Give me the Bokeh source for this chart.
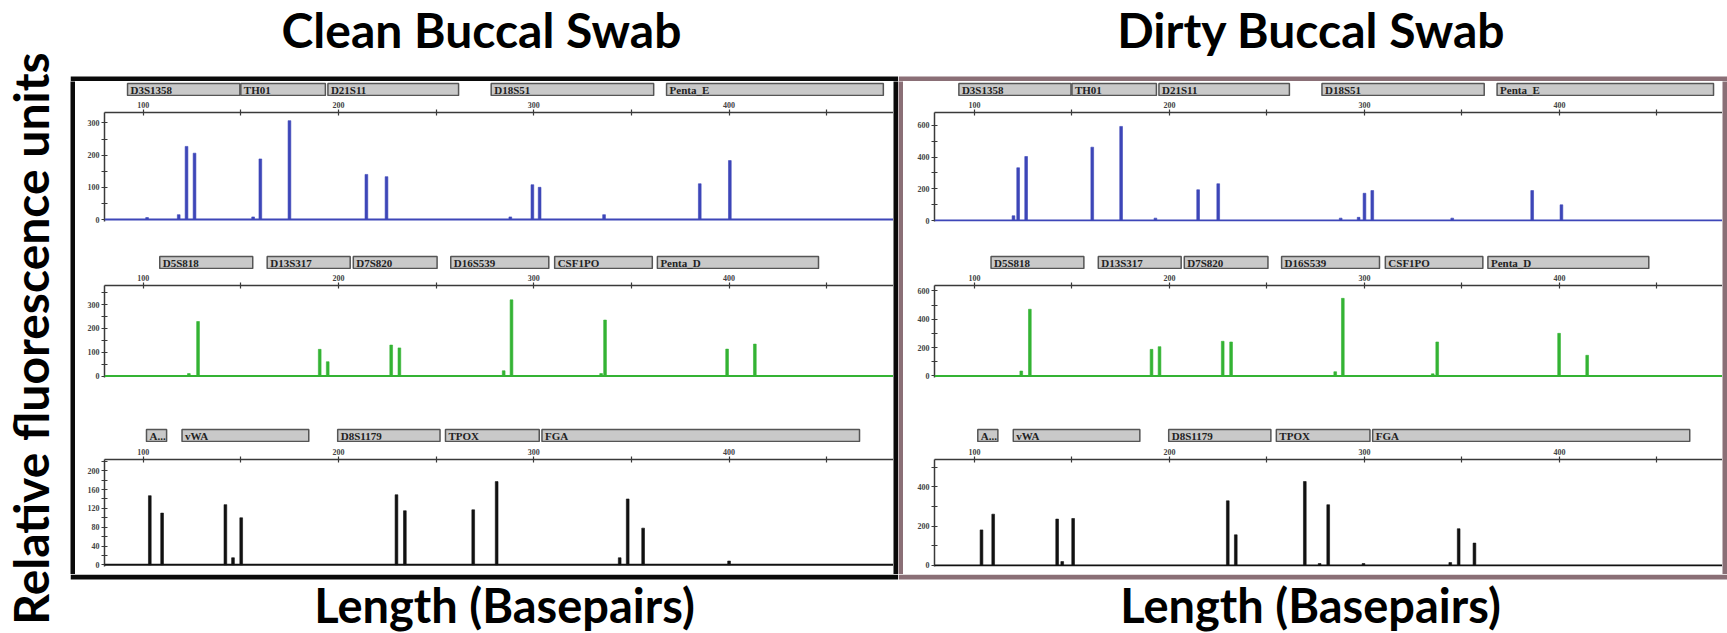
import math
from bokeh.plotting import figure
from bokeh.layouts import row, column
from bokeh.models import Range1d, FixedTicker, Label, Span, ColumnDataSource, BoxAnnotation
from bokeh.core.properties import value
from bokeh.embed import file_html
from bokeh.resources import INLINE

# ---------------- data ----------------
panel_titles = ["Clean Buccal Swab", "Dirty Buccal Swab"]
x_axis_title = "Length (Basepairs)"
y_axis_title = "Relative fluorescence units"

bp_ticks = [100, 150, 200, 250, 300, 350, 400, 450]
bp_tick_labels = ["100", "", "200", "", "300", "", "400", ""]

# loci boxes (same kit in both panels)
blue_loci = ["D3S1358", "TH01", "D21S11", "D18S51", "Penta_E"]
blue_loci_start = [92.0, 150.0, 194.6, 278.2, 368.0]
blue_loci_end = [149.5, 193.3, 261.5, 361.4, 479.0]
green_loci = ["D5S818", "D13S317", "D7S820", "D16S539", "CSF1PO", "Penta_D"]
green_loci_start = [108.5, 163.5, 207.6, 257.5, 310.7, 363.3]
green_loci_end = [156.1, 206.0, 250.5, 307.7, 360.7, 445.8]
black_loci = ["A...", "vWA", "D8S1179", "TPOX", "FGA"]
black_loci_start = [101.7, 119.9, 199.6, 254.8, 304.2]
black_loci_end = [112.0, 184.8, 252.0, 302.8, 466.8]

# clean swab peaks (bp, RFU)
clean_blue_bp = [102.0, 118.2, 122.2, 126.3, 156.3, 160.0, 174.9, 214.3, 224.6, 288.0, 299.3, 303.0, 336.0, 385.0, 400.4]
clean_blue_rfu = [6, 15, 227, 206, 8, 188, 307, 140, 133, 8, 108, 100, 15, 111, 183]
clean_green_bp = [123.4, 128.1, 190.4, 194.5, 227.0, 231.2, 284.6, 288.6, 334.5, 336.5, 399.0, 413.2]
clean_green_rfu = [10, 229, 112, 60, 130, 118, 22, 320, 10, 235, 113, 134]
clean_black_bp = [103.4, 109.7, 142.1, 146.0, 150.2, 229.7, 234.0, 269.0, 281.0, 344.0, 348.1, 356.0, 400.0]
clean_black_rfu = [147, 110, 128, 15, 100, 149, 115, 117, 177, 15, 140, 78, 8]

# dirty swab peaks (bp, RFU)
dirty_blue_bp = [120.0, 122.4, 126.5, 160.4, 175.2, 192.8, 214.7, 225.0, 287.8, 297.0, 300.0, 304.0, 345.0, 386.0, 401.0]
dirty_blue_rfu = [30, 333, 404, 463, 594, 15, 194, 232, 15, 20, 172, 189, 15, 189, 99]
dirty_green_bp = [124.0, 128.4, 190.8, 194.9, 227.3, 231.6, 285.0, 288.9, 335.0, 337.3, 399.8, 414.2]
dirty_green_rfu = [35, 471, 188, 207, 245, 240, 30, 548, 15, 240, 301, 146]
dirty_black_bp = [103.6, 109.6, 142.4, 145.0, 150.6, 229.9, 234.0, 269.4, 277.0, 281.4, 299.5, 344.0, 348.3, 356.4]
dirty_black_rfu = [181, 261, 236, 20, 239, 329, 156, 427, 10, 309, 10, 15, 187, 114]

# y-axis ticks
clean_blue_yticks = [0, 50, 100, 150, 200, 250, 300]
clean_blue_ylabels = ["0", "", "100", "", "200", "", "300"]
clean_green_yticks = [0, 50, 100, 150, 200, 250, 300, 350]
clean_green_ylabels = ["0", "", "100", "", "200", "", "300", ""]
clean_black_yticks = [0, 20, 40, 60, 80, 100, 120, 140, 160, 180, 200, 220]
clean_black_ylabels = ["0", "", "40", "", "80", "", "120", "", "160", "", "200", ""]
dirty_blue_yticks = [0, 100, 200, 300, 400, 500, 600]
dirty_blue_ylabels = ["0", "", "200", "", "400", "", "600"]
dirty_green_yticks = [0, 100, 200, 300, 400, 500, 600]
dirty_green_ylabels = ["0", "", "200", "", "400", "", "600"]
dirty_black_yticks = [0, 100, 200, 300, 400, 500]
dirty_black_ylabels = ["0", "", "200", "", "400", ""]

# ---------------- styling / layout ----------------
BLUE = "#3d46b8"
GREEN = "#34b334"
BLACK = "#111111"
AXIS_COL = "#3a3a3a"
TITLE_FONT = "Lato"

L_H = [15, 42, 59]
T_H = [131, 114, 132]
T_TOP = [16, 16, 17]
T_BOT = [6, 6, 8]
INNER_H = sum(L_H) + sum(T_H)
STRIP = 5
TITLE_H = 81
XLAB_H = 59


def blank(w, h, color="white"):
    p = figure(width=w, height=h, toolbar_location=None, output_backend="svg",
               min_border=0, x_axis_location=None, y_axis_location=None,
               outline_line_color=None, background_fill_color=color,
               border_fill_color=color, x_range=Range1d(0, w), y_range=Range1d(0, h))
    p.grid.visible = False
    return p


def text_fig(w, h, text, x, y, size, angle=0.0):
    p = blank(w, h)
    p.add_layout(Label(x=x, y=y, text=text, text_font=TITLE_FONT, text_font_style="bold",
                       text_font_size=size, text_align="center", text_baseline="middle",
                       text_color="#000000", angle=angle))
    return p


def locus_fig(w, h, xr, bl, names, starts, ends):
    p = figure(width=w, height=h, x_range=xr, y_range=Range1d(0, h), toolbar_location=None,
               output_backend="svg", min_border_left=bl, min_border_right=0,
               min_border_top=0, min_border_bottom=0, x_axis_location=None,
               y_axis_location=None, outline_line_color=None)
    p.grid.visible = False
    src = ColumnDataSource(dict(name=names, start=starts, end=ends))
    p.quad(left="start", right="end", bottom=1, top=13, source=src,
           fill_color="#c9c9c9", line_color="#555555", line_width=1.5)
    p.text(x="start", y=7, text="name", source=src, x_offset=3, text_baseline="middle",
           text_font=value("Liberation Serif"), text_font_style="bold",
           text_font_size="11px", text_color="#222222")
    return p


def trace_fig(w, h, xr, yr, bl, bt, bb, yticks, ylabels, xs, hs, color):
    p = figure(width=w, height=h, x_range=xr, y_range=Range1d(*yr), x_axis_location="above",
               toolbar_location=None, output_backend="svg", min_border_left=bl,
               min_border_right=0, min_border_top=bt, min_border_bottom=bb,
               outline_line_color=None)
    p.grid.visible = False
    p.xaxis.ticker = FixedTicker(ticks=bp_ticks, minor_ticks=[])
    p.xaxis.major_label_overrides = {t: l for t, l in zip(bp_ticks, bp_tick_labels)}
    p.yaxis.ticker = FixedTicker(ticks=yticks, minor_ticks=[])
    p.yaxis.major_label_overrides = {t: l for t, l in zip(yticks, ylabels)}
    for ax in (p.xaxis[0], p.yaxis[0]):
        ax.axis_line_color = AXIS_COL
        ax.axis_line_width = 1.5
        ax.major_tick_line_color = AXIS_COL
        ax.major_tick_line_width = 1.2
        ax.major_tick_in = 3
        ax.major_tick_out = 3
        ax.minor_tick_in = 0
        ax.minor_tick_out = 0
        ax.major_label_standoff = 2
        ax.major_label_text_font = "Liberation Serif"
        ax.major_label_text_font_style = "bold"
        ax.major_label_text_font_size = "8px"
        ax.major_label_text_color = "#444444"
    p.add_layout(Span(location=0, dimension="width", line_color=color, line_width=2))
    p.vbar(x=xs, top=hs, bottom=0, width=1.4, fill_color=color, line_color=color,
           line_width=0.6)
    return p


def panel(title, width, frame_left, xstart, xend, border_color, yranges, ticks, peaks,
          title_x, xlab_x):
    inner_w = width - 2 * STRIP
    xr = Range1d(xstart, xend)
    loci = [(blue_loci, blue_loci_start, blue_loci_end),
            (green_loci, green_loci_start, green_loci_end),
            (black_loci, black_loci_start, black_loci_end)]
    colors = [BLUE, GREEN, BLACK]
    kids = []
    for i in range(3):
        kids.append(locus_fig(inner_w, L_H[i], xr, frame_left, *loci[i]))
        kids.append(trace_fig(inner_w, T_H[i], xr, yranges[i], frame_left, T_TOP[i], T_BOT[i],
                              ticks[i][0], ticks[i][1], peaks[i][0], peaks[i][1], colors[i]))
    inner = column(*kids, spacing=0)
    mid = row(blank(STRIP, INNER_H, border_color), inner,
              blank(STRIP, INNER_H, border_color), spacing=0)
    tfig = text_fig(width, TITLE_H, title, title_x, 51.6, "48px")
    tfig.add_layout(BoxAnnotation(left=0, right=width, bottom=0, top=STRIP,
                                  fill_color=border_color, fill_alpha=1.0, line_color=None))
    xfig = text_fig(width, XLAB_H, x_axis_title, xlab_x, 29, "47px")
    xfig.add_layout(BoxAnnotation(left=0, right=width, bottom=XLAB_H - STRIP, top=XLAB_H,
                                  fill_color=border_color, fill_alpha=1.0, line_color=None))
    return column(tfig, mid, xfig, spacing=0)


left = panel(panel_titles[0], 828, 29, 80.2, 484.2, "#0a0a0a",
             [(-6.2, 332.3), (-6.3, 380.3), (-3.6, 224.0)],
             [(clean_blue_yticks, clean_blue_ylabels),
              (clean_green_yticks, clean_green_ylabels),
              (clean_black_yticks, clean_black_ylabels)],
             [(clean_blue_bp, clean_blue_rfu), (clean_green_bp, clean_green_rfu),
              (clean_black_bp, clean_black_rfu)],
             411, 434)

right = panel(panel_titles[1], 829, 31, 79.5, 483.6, "#8a6f76",
              [(-6.3, 682.0), (-10.6, 638.7), (-5.1, 539.0)],
              [(dirty_blue_yticks, dirty_blue_ylabels),
               (dirty_green_yticks, dirty_green_ylabels),
               (dirty_black_yticks, dirty_black_ylabels)],
              [(dirty_blue_bp, dirty_blue_rfu), (dirty_green_bp, dirty_green_rfu),
               (dirty_black_bp, dirty_black_rfu)],
              413, 412)

TOTAL_H = TITLE_H + INNER_H + XLAB_H
ylab = text_fig(70, TOTAL_H, y_axis_title, 30, TOTAL_H - 338, "48px", angle=math.pi / 2)

root = row(ylab, left, right, spacing=0)

open("out.html", "w").write(file_html(root, INLINE))
